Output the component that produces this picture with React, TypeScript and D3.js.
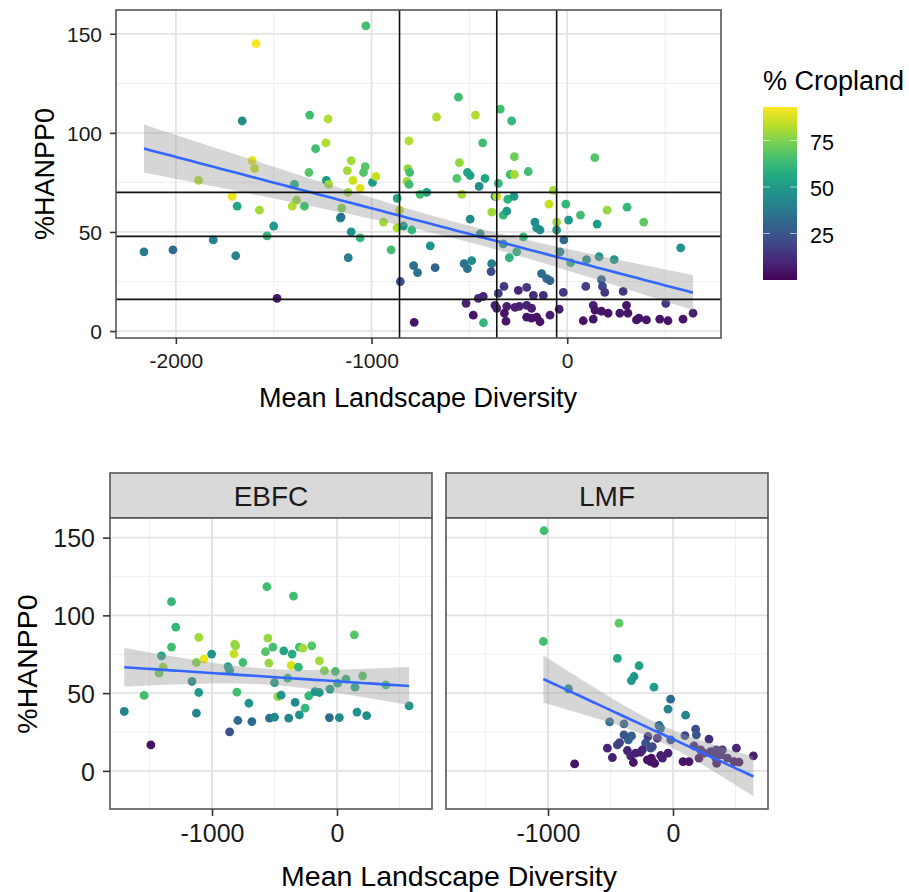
import React, { useEffect, useRef } from 'react';
import * as d3 from 'd3';

// all sites (top panel)
const allDiversity = [
  -1029, -1590, -1661, -1316, -1222, -1286, -1233, -1610, -1598, -1884,
  -1320, -1231, -1219, -1394, -1104, -1124, -1095, -1058, -1120, -1032,
  -1041, -995, -978, -1712, -1687, -1573, -1405, -1383, -1343, -1153,
  -1160, -1156, -1534, -1500, -1104, -1058, -1809, -2163, -2015, -1694,
  -1119, -1483, -556, -668, -469, -342, -284, -809, -432, -270,
  141, -551, -814, -805, -819, -808, -564, -510, -496, -420,
  -450, -292, -270, -199, -352, -752, -718, -539, -369, -360,
  -304, -272, -71, -93, -7, 68, 204, 306, 391, 7,
  153, -869, -857, -939, -870, -837, -794, -386, -327, -309,
  -496, -165, -156, -139, -54, -54, -224, -900, -700, -445,
  -327, -296, -258, -17, -37, 18, 99, 163, 240, 580,
  -785, -765, -675, -527, -510, -488, -386, -389, -853, -131,
  -105, -88, -207, -323, -352, -20, 95, 175, 180, 192,
  286, -173, -122, 504, -429, -454, -517, -369, -360, -309,
  -267, -245, -207, -182, -480, -321, -313, -207, -182, -156,
  -139, -88, -41, -428, -782, 82, 133, 133, 142, 175,
  209, 269, 303, 310, 354, 367, 405, 473, 515, 592,
  643, -250,
];
const allHanpp = [
  154, 145, 106, 109, 107, 92, 95, 86, 82, 76,
  80, 76, 74, 74, 86, 81, 76, 72, 70, 83,
  80, 75, 78, 68, 63, 61, 63, 66, 63, 62,
  57, 57.5, 48, 53, 50, 47, 46, 40, 41, 38,
  37, 16.5, 118, 108, 109, 112, 106, 96, 95, 88,
  87.5, 85, 82, 80, 75.5, 74, 77, 80, 78.5, 77,
  73, 79, 79, 80.5, 74.5, 69, 70, 69, 68, 68,
  66.5, 68, 71, 64, 64, 58.5, 61, 62.5, 55, 56,
  54, 67, 61, 55, 52, 53, 51, 60, 58.5, 60.5,
  56.5, 55, 52, 51, 55, 51, 47.5, 41, 43, 49,
  44, 37, 40, 46, 40, 34.5, 36, 37.5, 36, 42,
  33, 29.5, 32, 34, 31.5, 35.5, 34, 30, 25, 29,
  26.5, 25.5, 22, 22.5, 19, 19.5, 22.5, 26, 22.5, 19.5,
  20, 18, 18, 14, 17.5, 16.5, 14, 13, 11.5, 12.5,
  12, 12.5, 13, 11.5, 8, 9, 5, 7, 6.5, 7,
  4.7, 8, 11, 4.2, 4.4, 5.2, 6, 13, 10.5, 10,
  9, 9, 13, 9, 5.6, 6.5, 5.6, 6, 5.2, 6,
  9, 20.5,
];
const allCropland = [
  65, 92, 45, 65, 82, 65, 82, 88, 85, 82,
  68, 50, 80, 55, 80, 80, 86, 88, 80, 68,
  68, 50, 85, 90, 55, 80, 82, 78, 65, 75,
  58, 35, 62, 50, 48, 62, 42, 38, 32, 42,
  40, 5, 65, 82, 82, 65, 62, 82, 65, 72,
  68, 78, 78, 65, 80, 65, 68, 52, 52, 55,
  45, 65, 80, 65, 62, 65, 55, 80, 48, 85,
  60, 50, 80, 85, 62, 65, 78, 62, 70, 50,
  50, 55, 85, 80, 82, 48, 62, 80, 62, 50,
  45, 45, 48, 45, 80, 50, 62, 65, 48, 45,
  48, 60, 58, 32, 42, 60, 45, 48, 48, 48,
  33, 35, 30, 35, 35, 45, 40, 20, 22, 32,
  32, 30, 15, 15, 18, 15, 18, 28, 20, 15,
  15, 12, 12, 15, 10, 10, 8, 8, 8, 8,
  8, 8, 8, 8, 5, 5, 5, 5, 5, 5,
  5, 7, 7, 62, 5, 5, 5, 8, 5, 5,
  5, 5, 5, 5, 5, 5, 5, 5, 5, 5,
  8, 10,
];

// EBFC facet
const ebfcDiversity = [
  -561, -348, -1324, -1290, 138, -1106, -553, -819, -811, -513,
  -202, -1324, -301, -274, -426, -359, -572, -824, -1003, -1404,
  -1064, -1125, -753, -545, -141, -367, -309, -1391, -872, -1423,
  -859, -101, -13, -1160, -500, 72, 205, 144, 391, 5,
  -394, -1543, -1106, -801, -473, -447, -226, -176, -141, -56,
  -705, -335, 577, -1702, -1125, -255, -301, 160, 237, -540,
  -500, -386, -793, -681, -61, 19, -859, -1489,
];
const ebfcHanpp = [
  118.4, 112.4, 108.8, 92.5, 87.5, 85.8, 85.4, 81.5, 80.4, 79.6,
  80.4, 79.6, 79.6, 78.9, 77.2, 75.1, 76.6, 75.3, 75.1, 74,
  71.9, 69.7, 69.7, 69.3, 70.8, 67.8, 66.7, 66.7, 67.1, 62.8,
  64.6, 64.4, 63.9, 57.5, 56.8, 59, 61.1, 53.8, 55.3, 56.4,
  59.6, 48.5, 50.4, 50.6, 47.8, 48.7, 48.3, 51, 50.4, 52.6,
  43.5, 44, 41.8, 38.2, 37.1, 40.3, 36, 37.8, 35.6, 33.9,
  34.5, 33.9, 32.4, 31.7, 34.3, 34.3, 25.1, 16.7,
];
const ebfcCropland = [
  65, 65, 62, 62, 68, 80, 78, 80, 78, 65,
  68, 65, 65, 80, 55, 58, 68, 85, 48, 55,
  90, 75, 65, 78, 80, 87, 62, 78, 55, 72,
  50, 75, 65, 45, 50, 60, 68, 55, 65, 58,
  62, 65, 50, 65, 78, 48, 62, 48, 50, 50,
  48, 45, 48, 42, 42, 62, 48, 48, 45, 35,
  45, 42, 32, 32, 33, 45, 22, 5,
];

// LMF facet
const lmfDiversity = [
  -1032, -1037, -432, -445, -272, -312, -333, -152, -837, -19,
  -40, 101, -507, -392, -112, -99, 181, 187, 96, -331,
  -357, -445, -525, -200, -125, -219, -179, 288, 168, -365,
  -259, -339, -485, -317, -205, -147, -173, -40, -99, -787,
  80, 128, 208, 248, 347, 341, 381, 349, 435, 507,
  488, 528, 643, 221, -392, -427, -299, -179, -165, -85,
  302, 395, -245, -18,
];
const lmfHanpp = [
  154.4, 83.2, 95, 72.3, 67.6, 60.7, 58.1, 53.8, 52.8, 46.1,
  39.7, 35.8, 31.5, 30.2, 29.2, 27.5, 26.8, 23.2, 22.7, 22.5,
  19.9, 16.7, 14.6, 22.1, 21, 17.8, 14.6, 20.4, 16.1, 13.1,
  12, 9.7, 8.6, 5.4, 7.1, 4.9, 8.2, 11.4, 9.9, 4.5,
  6, 6, 8.2, 11.4, 13.5, 8.6, 10.3, 4.9, 8.2, 14.6,
  6, 5.6, 9.7, 13.5, 23.2, 18.2, 11.4, 6, 15.6, 8.2,
  12.4, 13.5, 13.5, 20,
];
const lmfCropland = [
  65, 65, 70, 55, 52, 50, 50, 52, 45, 32,
  42, 42, 35, 28, 32, 32, 22, 25, 20, 28,
  30, 20, 10, 15, 15, 25, 25, 12, 12, 10,
  10, 10, 8, 5, 5, 5, 5, 8, 8, 5,
  5, 5, 5, 10, 12, 8, 10, 5, 8, 10,
  5, 5, 8, 12, 25, 18, 8, 5, 20, 8,
  10, 12, 10, 20,
];

const facetNames = ['EBFC', 'LMF'];
const cutDiversity = [-857, -360, -54];
const cutHanpp = [70, 47.8, 16];

const topXTicks = [-2000, -1000, 0];
const facetXTicks = [-1000, 0];
const yTicks = [0, 50, 100, 150];
const legendTicks = [25, 50, 75];
const croplandRange = [0, 93];

const topXDomain = [-2306, 786];
const topYDomain = [-3.5, 162];
const facetXDomain = [-1816, 760];
const facetYDomain = [-24.5, 162.6];

const FONT = '"Liberation Sans", Arial, Helvetica, sans-serif';
const color = d3.scaleSequential(d3.interpolateViridis).domain(croplandRange);

// t quantile (0.975) approximation
const tQuant = (df) => {
  const z = 1.959964;
  return z + (z ** 3 + z) / (4 * df) + (5 * z ** 5 + 16 * z ** 3 + 3 * z) / (96 * df * df);
};

// geom_smooth(method = 'lm') equivalent
const lmFit = (xs, ys) => {
  const n = xs.length;
  const mx = d3.mean(xs);
  const my = d3.mean(ys);
  let sxx = 0, sxy = 0;
  xs.forEach((x, i) => { sxx += (x - mx) ** 2; sxy += (x - mx) * (ys[i] - my); });
  const b = sxy / sxx;
  const a = my - b * mx;
  let sse = 0;
  xs.forEach((x, i) => { sse += (ys[i] - a - b * x) ** 2; });
  const s = Math.sqrt(sse / (n - 2));
  const t = tQuant(n - 2);
  const [x0, x1] = d3.extent(xs);
  return d3.range(80).map(i => {
    const x = x0 + (x1 - x0) * i / 79;
    const yhat = a + b * x;
    const se = s * Math.sqrt(1 / n + (x - mx) ** 2 / sxx);
    return { x, y: yhat, lo: yhat - t * se, hi: yhat + t * se };
  });
};

const minorBreaks = (ticks, domain) => {
  const step = ticks[1] - ticks[0];
  const out = [];
  for (let v = ticks[0] - step * 1.5; v <= domain[1]; v += step) {
    if (v >= domain[0]) out.push(v);
  }
  return out;
};

const majorBreaks = (ticks, domain) => {
  const step = ticks[1] - ticks[0];
  const out = [];
  for (let v = ticks[0] - step; v <= domain[1]; v += step) {
    if (v >= domain[0]) out.push(v);
  }
  return out;
};

const drawPanel = (svg, p) => {
  const x = d3.scaleLinear().domain(p.xDomain).range([p.left, p.right]);
  const y = d3.scaleLinear().domain(p.yDomain).range([p.bottom, p.top]);
  const g = svg.append('g');

  g.append('rect')
    .attr('x', p.left).attr('y', p.top)
    .attr('width', p.right - p.left).attr('height', p.bottom - p.top)
    .attr('fill', '#fff');

  // grid
  minorBreaks(p.xTicks, p.xDomain).forEach(v => {
    g.append('line').attr('x1', x(v)).attr('x2', x(v)).attr('y1', p.top).attr('y2', p.bottom)
      .attr('stroke', '#f0f0f0').attr('stroke-width', 1.2);
  });
  minorBreaks(p.yTicks, p.yDomain).forEach(v => {
    g.append('line').attr('y1', y(v)).attr('y2', y(v)).attr('x1', p.left).attr('x2', p.right)
      .attr('stroke', '#f0f0f0').attr('stroke-width', 1.2);
  });
  majorBreaks(p.xTicks, p.xDomain).forEach(v => {
    g.append('line').attr('x1', x(v)).attr('x2', x(v)).attr('y1', p.top).attr('y2', p.bottom)
      .attr('stroke', '#e3e3e3').attr('stroke-width', 1.8);
  });
  majorBreaks(p.yTicks, p.yDomain).forEach(v => {
    g.append('line').attr('y1', y(v)).attr('y2', y(v)).attr('x1', p.left).attr('x2', p.right)
      .attr('stroke', '#e3e3e3').attr('stroke-width', 1.8);
  });

  // points
  g.selectAll('.pt')
    .data(d3.range(p.xs.length))
    .enter().append('circle')
    .attr('class', 'pt')
    .attr('cx', i => x(p.xs[i]))
    .attr('cy', i => y(p.ys[i]))
    .attr('r', 4.4)
    .attr('fill', i => color(p.cs[i]));

  // smooth
  const fit = lmFit(p.xs, p.ys);
  g.append('path').datum(fit)
    .attr('d', d3.area().x(d => x(d.x)).y0(d => y(d.lo)).y1(d => y(d.hi)))
    .attr('fill', '#999999').attr('fill-opacity', 0.4);
  g.append('path').datum(fit)
    .attr('d', d3.line().x(d => x(d.x)).y(d => y(d.y)))
    .attr('fill', 'none').attr('stroke', '#3366FF').attr('stroke-width', 2.6);

  // reference cut lines (top panel only)
  (p.vLines || []).forEach(v => {
    g.append('line').attr('x1', x(v)).attr('x2', x(v)).attr('y1', p.top).attr('y2', p.bottom)
      .attr('stroke', '#111').attr('stroke-width', 1.6);
  });
  (p.hLines || []).forEach(v => {
    g.append('line').attr('y1', y(v)).attr('y2', y(v)).attr('x1', p.left).attr('x2', p.right)
      .attr('stroke', '#111').attr('stroke-width', 1.6);
  });

  g.append('rect')
    .attr('x', p.left).attr('y', p.top)
    .attr('width', p.right - p.left).attr('height', p.bottom - p.top)
    .attr('fill', 'none').attr('stroke', '#555').attr('stroke-width', 1.6);

  // x axis
  const xAxis = g.append('g')
    .attr('transform', `translate(0, ${p.bottom})`)
    .call(d3.axisBottom(x).tickValues(p.xTicks).tickSize(p.tickLen).tickPadding(p.xPad));
  xAxis.select('.domain').remove();
  xAxis.selectAll('line').attr('stroke', '#333').attr('stroke-width', 1.6);
  xAxis.selectAll('text').attr('font-size', p.tickFont).attr('font-family', FONT).attr('fill', '#1a1a1a');
  xAxis.selectAll('text').text(d => (d < 0 ? '-' : '') + Math.abs(d));

  if (p.showY) {
    const yAxis = g.append('g')
      .attr('transform', `translate(${p.left}, 0)`)
      .call(d3.axisLeft(y).tickValues(p.yTicks).tickSize(p.tickLen).tickPadding(p.yPad));
    yAxis.select('.domain').remove();
    yAxis.selectAll('line').attr('stroke', '#333').attr('stroke-width', 1.6);
    yAxis.selectAll('text').attr('font-size', p.tickFont).attr('font-family', FONT)
      .attr('fill', '#1a1a1a').attr('dy', '0.37em');
  }
  return { x, y };
};

const App = () => {
  const svgRef = useRef();

  useEffect(() => {
    const svg = d3.select(svgRef.current);
    svg.selectAll('*').remove();

    // Top panel: all sites
    drawPanel(svg, {
      left: 116, right: 721, top: 10, bottom: 338,
      xDomain: topXDomain, yDomain: topYDomain,
      xTicks: topXTicks, yTicks: yTicks,
      xs: allDiversity, ys: allHanpp, cs: allCropland,
      vLines: cutDiversity, hLines: cutHanpp,
      tickLen: 6, xPad: 9, yPad: 8, tickFont: 21, showY: true,
    });

    svg.append('text')
      .attr('x', 418).attr('y', 407)
      .attr('text-anchor', 'middle').attr('font-family', FONT).attr('font-size', 27)
      .text('Mean Landscape Diversity');
    svg.append('text')
      .attr('transform', 'translate(54, 174) rotate(-90)')
      .attr('text-anchor', 'middle').attr('font-family', FONT).attr('font-size', 27)
      .text('%HANPP0');

    // Legend
    const legendScale = d3.scaleLinear().domain(croplandRange).range([280, 107]);
    const grad = svg.append('defs').append('linearGradient')
      .attr('id', 'cropGrad').attr('x1', 0).attr('x2', 0).attr('y1', 1).attr('y2', 0);
    d3.range(11).forEach(i => {
      const v = croplandRange[0] + (croplandRange[1] - croplandRange[0]) * i / 10;
      grad.append('stop').attr('offset', `${i * 10}%`).attr('stop-color', color(v));
    });
    svg.append('text')
      .attr('x', 763).attr('y', 90)
      .attr('font-family', FONT).attr('font-size', 27)
      .text('% Cropland');
    svg.append('rect')
      .attr('x', 763).attr('y', legendScale(croplandRange[1]))
      .attr('width', 34).attr('height', legendScale(croplandRange[0]) - legendScale(croplandRange[1]))
      .attr('fill', 'url(#cropGrad)');
    legendTicks.forEach(v => {
      svg.append('line').attr('x1', 763).attr('x2', 770).attr('y1', legendScale(v)).attr('y2', legendScale(v))
        .attr('stroke', '#fff').attr('stroke-opacity', 0.6).attr('stroke-width', 1);
      svg.append('line').attr('x1', 790).attr('x2', 797).attr('y1', legendScale(v)).attr('y2', legendScale(v))
        .attr('stroke', '#fff').attr('stroke-opacity', 0.6).attr('stroke-width', 1);
      svg.append('text')
        .attr('x', 810).attr('y', legendScale(v)).attr('dy', '0.42em')
        .attr('font-family', FONT).attr('font-size', 21.5)
        .text(v);
    });

    // Facets
    const facets = [
      { name: facetNames[0], left: 110, right: 432, xs: ebfcDiversity, ys: ebfcHanpp, cs: ebfcCropland },
      { name: facetNames[1], left: 446, right: 768, xs: lmfDiversity, ys: lmfHanpp, cs: lmfCropland },
    ];
    facets.forEach((f, i) => {
      svg.append('rect')
        .attr('x', f.left).attr('y', 473)
        .attr('width', f.right - f.left).attr('height', 45)
        .attr('fill', '#d9d9d9').attr('stroke', '#555').attr('stroke-width', 1.6);
      svg.append('text')
        .attr('x', (f.left + f.right) / 2).attr('y', 506)
        .attr('text-anchor', 'middle').attr('font-family', FONT).attr('font-size', 28)
        .attr('fill', '#1a1a1a')
        .text(f.name);
      drawPanel(svg, {
        left: f.left, right: f.right, top: 518, bottom: 809,
        xDomain: facetXDomain, yDomain: facetYDomain,
        xTicks: facetXTicks, yTicks: yTicks,
        xs: f.xs, ys: f.ys, cs: f.cs,
        tickLen: 7, xPad: 8, yPad: 8, tickFont: 25, showY: i === 0,
      });
    });

    svg.append('text')
      .attr('x', 449).attr('y', 886)
      .attr('text-anchor', 'middle').attr('font-family', FONT).attr('font-size', 28.5)
      .text('Mean Landscape Diversity');
    svg.append('text')
      .attr('transform', 'translate(37, 664) rotate(-90)')
      .attr('text-anchor', 'middle').attr('font-family', FONT).attr('font-size', 28.5)
      .text('%HANPP0');
  }, []);

  return (
    <svg ref={svgRef} width={909} height={892}
      style={{ position: 'absolute', left: 0, top: 0, background: '#fff' }}></svg>
  );
};

export default App;
